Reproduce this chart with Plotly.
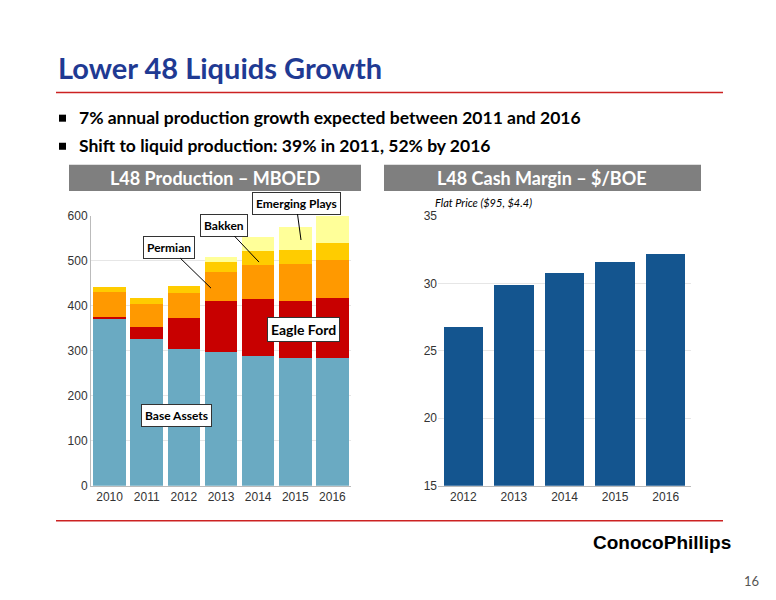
import plotly.graph_objects as go

years = ["2010", "2011", "2012", "2013", "2014", "2015", "2016"]
base_assets = [370, 327, 305, 297, 289, 283, 283]
eagle_ford = [5, 27, 68, 113, 127, 128, 135]
permian = [55, 51, 55, 65, 74, 81, 84]
bakken = [12, 13, 17, 22, 32, 33, 38]
emerging = [0, 0, 0, 11, 31, 50, 60]

margin_years = ["2012", "2013", "2014", "2015", "2016"]
cash_margin = [26.8, 29.9, 30.8, 31.6, 32.2]

W, H = 776, 600
# screenshot offset correction
def px(x): return (x - 7) / W
def py(y): return 1 - ((y - 15.6) / 0.974) / H

fig = go.Figure()
for name, vals, col in [("Base Assets", base_assets, "#6aaac2"),
                        ("Eagle Ford", eagle_ford, "#c80000"),
                        ("Permian", permian, "#ff9900"),
                        ("Bakken", bakken, "#ffcc00"),
                        ("Emerging Plays", emerging, "#ffff99")]:
    fig.add_trace(go.Bar(x=years, y=vals, name=name, marker_color=col,
                         marker_line_width=0, xaxis="x", yaxis="y"))
fig.add_trace(go.Bar(x=margin_years, y=cash_margin, marker_color="#14558f",
                     marker_line_width=0, xaxis="x2", yaxis="y2"))

tick = dict(family="Liberation Sans", size=12, color="#333")
fig.update_layout(
    width=W, height=H, margin=dict(l=0, r=0, t=0, b=0), showlegend=False,
    barmode="stack", bargap=0.12, plot_bgcolor="white", paper_bgcolor="white",
    xaxis=dict(domain=[px(90), px(350)], tickfont=tick, showline=True, linecolor="#bbb", ticks=""),
    yaxis=dict(domain=[py(485), py(216)], range=[0, 600], dtick=100, tickfont=tick,
               gridcolor="#e6e6e6", zeroline=False, showline=True, linecolor="#bbb"),
    xaxis2=dict(domain=[px(437), px(690)], anchor="y2", tickfont=tick, showline=True, linecolor="#bbb"),
    yaxis2=dict(domain=[py(485), py(216)], anchor="x2", range=[15, 35], dtick=5, tickfont=tick,
                gridcolor="#e6e6e6", zeroline=False),
)
fig.update_traces(selector=dict(xaxis="x2"), width=0.78)

shapes = [
    dict(type="line", xref="paper", yref="paper", x0=px(55), x1=px(722), y0=py(93), y1=py(93),
         line=dict(color="#cc2222", width=1.5)),
    dict(type="line", xref="paper", yref="paper", x0=px(55), x1=px(722), y0=py(520), y1=py(520),
         line=dict(color="#cc2222", width=1.5)),
    dict(type="rect", xref="paper", yref="paper", x0=px(68), x1=px(360), y0=py(191), y1=py(165),
         fillcolor="#7f7f7f", line_width=0),
    dict(type="rect", xref="paper", yref="paper", x0=px(383), x1=px(700), y0=py(191), y1=py(165),
         fillcolor="#7f7f7f", line_width=0),
]
for y in (118, 146):
    shapes.append(dict(type="rect", xref="paper", yref="paper", x0=px(58), x1=px(65),
                       y0=py(y + 4), y1=py(y - 3), fillcolor="black", line_width=0))
fig.update_layout(shapes=shapes)

F = "Lato"
ann = [
    dict(x=px(55), y=py(68), text="<b>Lower 48 Liquids Growth</b>", xanchor="left",
         font=dict(family=F, size=29, color="#1f3a93")),
    dict(x=px(76), y=py(118), text="<b>7% annual production growth expected between 2011 and 2016</b>",
         xanchor="left", font=dict(family=F, size=17.5, color="black")),
    dict(x=px(76), y=py(146), text="<b>Shift to liquid production: 39% in 2011, 52% by 2016</b>",
         xanchor="left", font=dict(family=F, size=17.5, color="black")),
    dict(x=px(214), y=py(178), text="<b>L48 Production – MBOED</b>", xanchor="center",
         font=dict(family=F, size=18, color="white")),
    dict(x=px(541), y=py(178), text="<b>L48 Cash Margin – $/BOE</b>", xanchor="center",
         font=dict(family=F, size=18, color="white")),
    dict(x=px(432), y=py(203), text="<i>Flat Price ($95, $4.4)</i>", xanchor="left",
         font=dict(family=F, size=11, color="black")),
    dict(x=px(590), y=py(542), text="<b>ConocoPhillips</b>", xanchor="left",
         font=dict(family="Liberation Sans", size=19, color="black")),
    dict(x=px(760), y=py(580), text="16", xanchor="right",
         font=dict(family=F, size=13, color="#555")),
]
for a in ann:
    a.update(xref="paper", yref="paper", showarrow=False, yanchor="middle")

boxed = dict(font=dict(family=F, size=12, color="black"), bgcolor="white",
             bordercolor="#333", borderwidth=1, borderpad=3, xref="paper", yref="paper")
for text, tip, box in [("Permian", (210, 288), (168, 247)),
                       ("Bakken", (258, 262), (223, 225)),
                       ("Emerging Plays", (300, 240), (295, 203))]:
    ann.append(dict(text="<b>%s</b>" % text, x=px(tip[0]), y=py(tip[1]), ax=box[0] - tip[0],
                    ay=box[1] - tip[1], showarrow=True, arrowhead=0, arrowcolor="black",
                    arrowwidth=1, **boxed))
ann.append(dict(text="<b>Eagle Ford</b>", x=px(302), y=py(329), showarrow=False,
                **{**boxed, "font": dict(family=F, size=14, color="black")}))
ann.append(dict(text="<b>Base Assets</b>", x=px(140), y=py(426), showarrow=False, **boxed))
fig.update_layout(annotations=ann)

fig.write_html("out.html")
